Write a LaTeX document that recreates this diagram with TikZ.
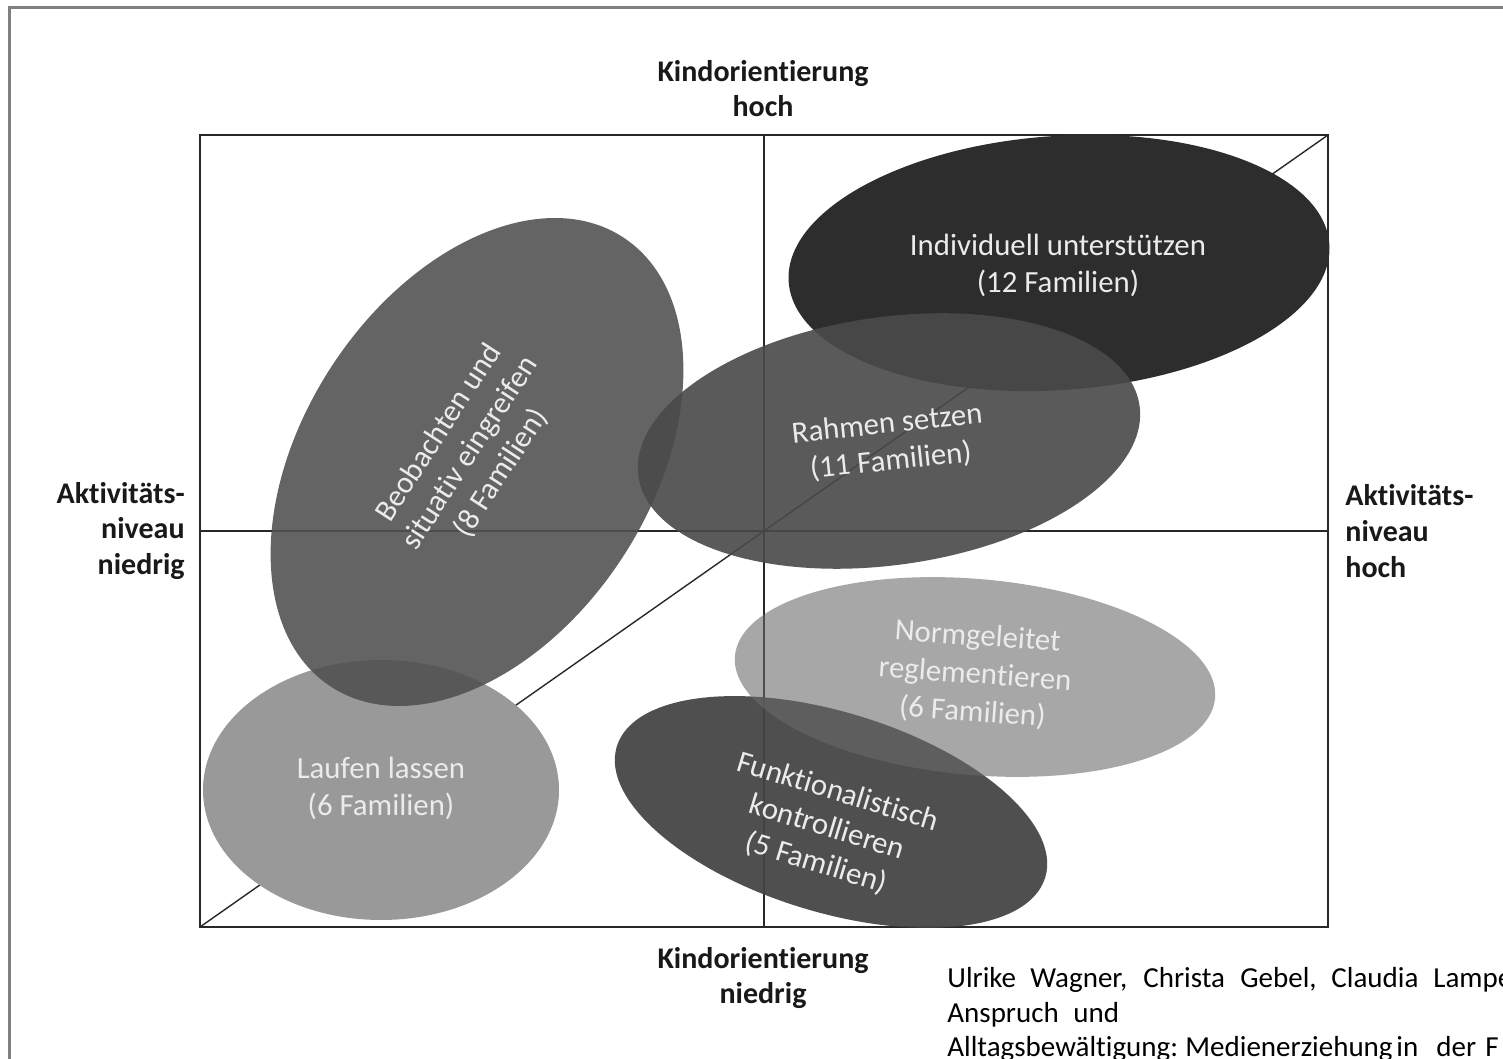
\documentclass[tikz,border=0pt]{standalone}
\usepackage{fontspec}
\setmainfont{Carlito}[Ligatures={NoCommon,NoContextual}]
\definecolor{cIndiv}{RGB}{45,45,45}
\definecolor{cLauf}{RGB}{153,153,153}
\definecolor{cBeob}{RGB}{81,81,81}
\definecolor{cRahm}{RGB}{74,74,74}
\definecolor{cFunk}{RGB}{68,68,68}
\definecolor{cNorm}{RGB}{105,105,105}
\definecolor{cFrame}{RGB}{128,128,128}
\definecolor{cLine}{RGB}{40,40,40}
\definecolor{cText}{RGB}{235,235,235}
\begin{document}
\begin{tikzpicture}[x=0.5pt,y=0.5pt,
  boxline/.style={draw=cLine, line width=0.9pt},
  axisline/.style={draw=cLine, line width=0.7pt},
  lbl/.style={font=\bfseries\fontsize{15}{17.5}\selectfont, text=black!90, inner sep=0pt},
  etxt/.style={font=\fontsize{15.4}{18.5}\selectfont, align=center, text=cText, inner sep=0pt},
  captxt/.style={font=\fontsize{14.5}{16}\selectfont, anchor=base west, inner sep=0pt, text=black}]
\useasboundingbox (0,0) rectangle (1503,1059);
\clip (0,0) rectangle (1503,1059);
\fill[white] (0,0) rectangle (1503,1059);
% outer frame
\draw[line width=1.5pt, draw=cFrame] (9,1051) rectangle (1700,-100);
% box and axes
\coordinate (bl) at (200,132);
\coordinate (tr) at (1328,924);
\coordinate (mt) at (764,924);
\coordinate (mb) at (764,132);
\coordinate (ml) at (200,528);
\coordinate (mr) at (1328,528);
\draw[boxline] (bl) rectangle (tr);
\draw[axisline] (mt) -- (mb);
\draw[axisline] (ml) -- (mr);
\draw[axisline] (bl) -- (tr);
% ellipses
\fill[cIndiv, rotate around={4:(1059,796)}] (1059,796) ellipse [x radius=271, y radius=127];
\fill[cLauf] (381,269) ellipse [x radius=178, y radius=130];
\fill[cBeob, fill opacity=0.89, rotate around={57:(477,597)}] (477,597) ellipse [x radius=268, y radius=174];
\fill[cRahm, fill opacity=0.91, rotate around={8:(889,618)}] (889,618) ellipse [x radius=253, y radius=124];
\fill[cFunk, fill opacity=0.94, rotate around={-17:(831,247)}] (831,247) ellipse [x radius=224, y radius=100];
\fill[cNorm, fill opacity=0.58, rotate around={-5:(975,382)}] (975,382) ellipse [x radius=241, y radius=98];
% ellipse texts
\node[etxt] (tindiv) at (1058,794) {Individuell unterstützen\\(12 Familien)};
\node[etxt] (tlauf) at (381,271) {Laufen lassen\\(6 Familien)};
\node[etxt, rotate=57] (tbeob) at (470,606) {Beobachten und\\situativ eingreifen\\(8 Familien)};
\node[etxt, rotate=6] (trahm) at (889,616) {Rahmen setzen\\(11 Familien)};
\node[etxt, rotate=-4, font=\fontsize{15.4}{19}\selectfont] (tnorm) at (975,384) {Normgeleitet\\reglementieren\\(6 Familien)};
\node[etxt, rotate=-17] (tfunk) at (827,231) {Funktionalistisch\\kontrollieren\\(5 Familien)};
% axis labels
\node[lbl, align=center] (ktop) at (763,970) {Kindorientierung\\hoch};
\node[lbl, align=center] (kbot) at (763,81) {Kindorientierung\\niedrig};
\node[lbl, align=right, anchor=east, font=\bfseries\fontsize{15}{17.8}\selectfont] (aleft) at (185,528) {Aktivitäts-\\niveau\\niedrig};
\node[lbl, align=left, anchor=west, font=\bfseries\fontsize{15}{17.8}\selectfont] (aright) at (1345,528) {Aktivitäts-\\niveau\\hoch};
% caption
\node[captxt] (c1) at (947,71) {Ulrike};
\node[captxt] (c2) at (1030,71) {Wagner,};
\node[captxt] (c3) at (1143,71) {Christa};
\node[captxt] (c4) at (1240,71) {Gebel,};
\node[captxt] (c5) at (1331,71) {Claudia};
\node[captxt] (c6) at (1433,71) {Lampe};
\node[captxt] (c7) at (947,36) {Anspruch};
\node[captxt] (c8) at (1073,36) {und};
\node[captxt] (c9) at (947,3) {Alltagsbewältigung:};
\node[captxt] (c10) at (1185,3) {Medienerziehung};
\node[captxt] (c11) at (1396,3) {in};
\node[captxt] (c12) at (1436,3) {der};
\node[captxt] (c13) at (1485,3) {F};
\end{tikzpicture}
\end{document}
